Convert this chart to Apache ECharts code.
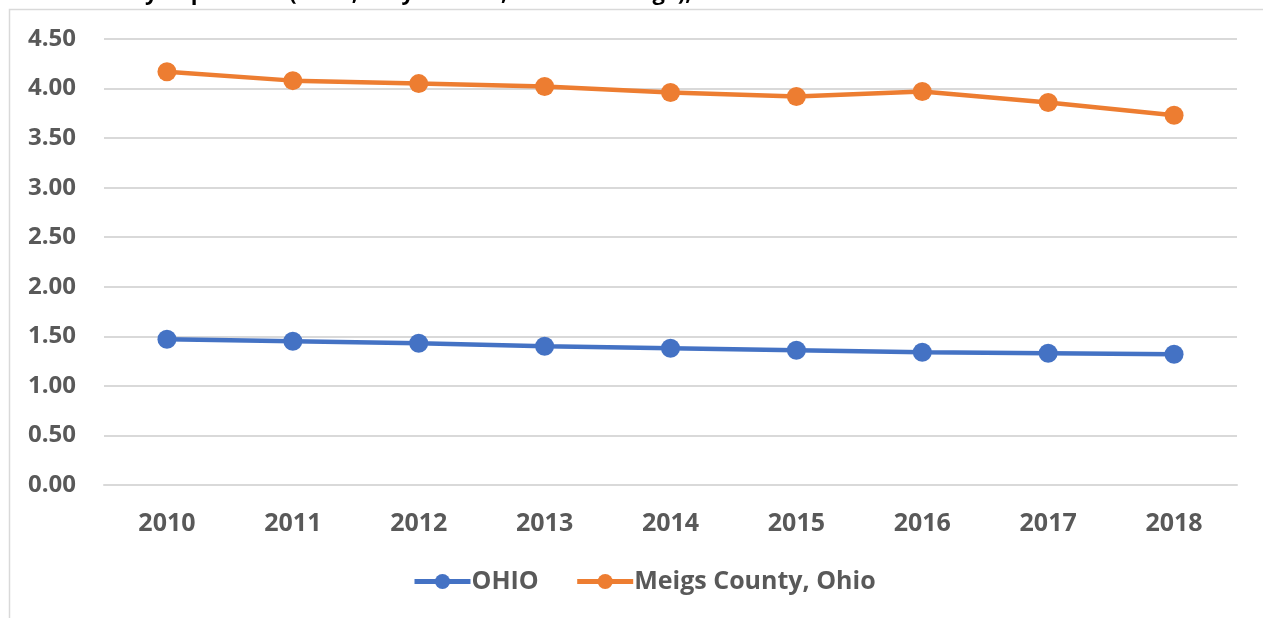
<!DOCTYPE html>
<html>
<head>
<meta charset="utf-8">
<script src="https://cdn.jsdelivr.net/npm/echarts@6/dist/echarts.min.js"></script>
<style>
  html, body { margin: 0; padding: 0; background: #fff; }
  #chart { width: 1263px; height: 618px; }
</style>
</head>
<body>
<div id="chart"></div>
<script>
const years = ['2010', '2011', '2012', '2013', '2014', '2015', '2016', '2017', '2018'];
const ohio = [1.47, 1.45, 1.43, 1.40, 1.38, 1.36, 1.34, 1.33, 1.32];
const meigs = [4.17, 4.08, 4.05, 4.02, 3.96, 3.92, 3.97, 3.86, 3.73];
const titleText = 'Rate for County Population (Per 1,000 years old, 3-Year Average), Ohio';

const chart = echarts.init(document.getElementById('chart'));
const font = '"Open Sans", "Noto Sans", sans-serif';

const option = {
  textStyle: { fontFamily: font },
  title: {
    text: titleText,
    left: -20,
    top: -22,
    textStyle: { fontSize: 22, fontWeight: 'bold', color: '#000', fontFamily: font }
  },
  graphic: [{
    type: 'rect',
    left: 7, top: 7,
    shape: { width: 1300, height: 700 },
    style: { fill: 'none', stroke: '#d9d9d9', lineWidth: 1.5 },
    silent: true
  }],
  grid: { left: 104, right: 26, top: 39, bottom: 133 },
  legend: {
    data: ['OHIO', 'Meigs County, Ohio'],
    bottom: 19,
    left: 407,
    itemWidth: 56,
    itemHeight: 19,
    itemGap: 36,
    lineStyle: { width: 5 },
    textStyle: { fontSize: 25, fontWeight: 'bold', color: '#595959', fontFamily: font, padding: [0, 0, 0, -4] }
  },
  xAxis: {
    type: 'category',
    data: years,
    axisLine: { lineStyle: { color: '#d9d9d9', width: 2 } },
    axisTick: { show: false },
    axisLabel: { fontSize: 25, fontWeight: 'bold', color: '#595959', margin: 26, fontFamily: font }
  },
  yAxis: {
    type: 'value',
    min: 0, max: 4.5, interval: 0.5,
    axisLine: { show: false },
    axisTick: { show: false },
    axisLabel: {
      fontSize: 24, fontWeight: 'bold', color: '#595959', margin: 28, fontFamily: font,
      formatter: v => v.toFixed(2)
    },
    splitLine: { lineStyle: { color: '#d9d9d9', width: 2 } }
  },
  series: [
    {
      name: 'OHIO', type: 'line', data: ohio,
      symbol: 'circle', symbolSize: 19,
      lineStyle: { color: '#4472C4', width: 4.5 },
      itemStyle: { color: '#4472C4' }
    },
    {
      name: 'Meigs County, Ohio', type: 'line', data: meigs,
      symbol: 'circle', symbolSize: 19,
      lineStyle: { color: '#ED7D31', width: 4.5 },
      itemStyle: { color: '#ED7D31' }
    }
  ],
  animation: false
};
chart.setOption(option);
</script>
</body>
</html>
